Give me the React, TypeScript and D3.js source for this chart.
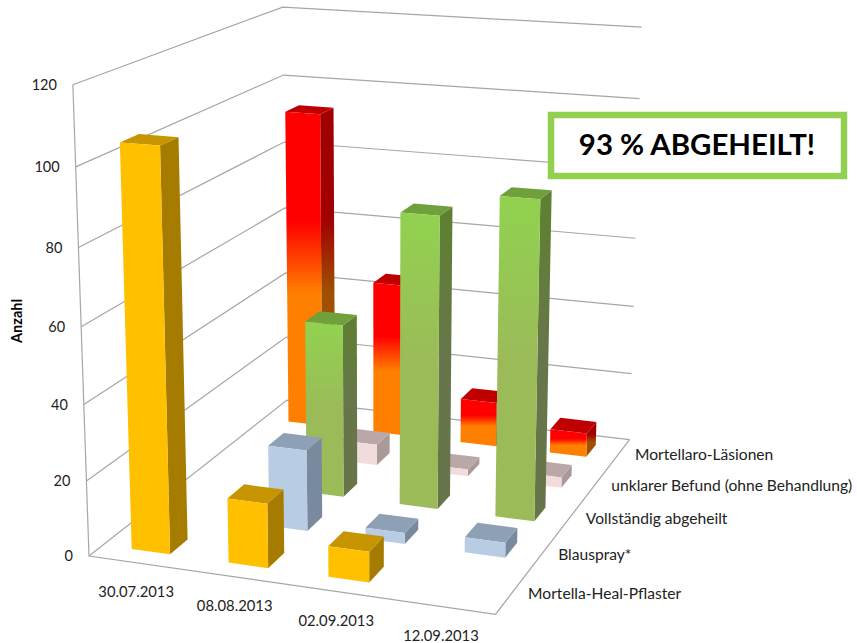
import React, { useEffect, useRef } from 'react'
import * as d3 from 'd3'

const categories = ['30.07.2013', '08.08.2013', '02.09.2013', '12.09.2013']
// front row first
const seriesNames = [
  'Mortella-Heal-Pflaster',
  'Blauspray*',
  'Vollständig abgeheilt',
  'unklarer Befund (ohne Behandlung)',
  'Mortellaro-Läsionen',
]
const pflaster = [105, 17, 8, 0]
const blauspray = [0, 22, 3, 4]
const abgeheilt = [0, 48, 80, 86.5]
const unklar = [0, 6, 2, 3]
const laesionen = [93, 45, 13, 7]
const yTicks = [0, 20, 40, 60, 80, 100, 120]

const seriesValues = [pflaster, blauspray, abgeheilt, unklar, laesionen]

// front, side, top colours per series. two colours = vertical gradient
const faceColors = [
  { front: ['#FFC000', '#FFC000'], side: ['#A67C00', '#A67C00'], top: '#C69500', stops: ['0%', '100%'] },
  { front: ['#B8CCE4', '#B8CCE4'], side: ['#7A8A9E', '#7A8A9E'], top: '#8EA0B5', stops: ['0%', '100%'] },
  { front: ['#92D050', '#9BBB59'], side: ['#5F8033', '#67764A'], top: '#6FA03C', stops: ['5%', '50%'] },
  { front: ['#F2DCDB', '#F2DCDB'], side: ['#A99A99', '#A99A99'], top: '#BAA8A8', stops: ['0%', '100%'] },
  { front: ['#FF0000', '#FF8000'], side: ['#A00000', '#A05000'], top: '#C00000', stops: ['35%', '58%'] },
]

// picture position of the corners of the plot box, (u, v, w) in 0..1
const anchors = [
  [0, 0, 0, 88, 556],
  [1, 0, 0, 496, 614],
  [1, 1, 0, 629, 440],
  [0, 1, 0, 288, 400],
  [0, 0, 1, 73.5, 85],
  [1, 1, 1, 642, 27],
  [0, 1, 1, 282, 7],
]

// least squares fit of a 3x4 camera matrix through the anchors
function fitCamera(pts: number[][]) {
  const rows: number[][] = []
  const rhs: number[] = []
  pts.forEach(([u, v, w, x, y]) => {
    rows.push([u, v, w, 1, 0, 0, 0, 0, -x * u, -x * v, -x * w])
    rhs.push(x)
    rows.push([0, 0, 0, 0, u, v, w, 1, -y * u, -y * v, -y * w])
    rhs.push(y)
  })
  const n = 11
  const m = d3.range(n).map(i =>
    d3.range(n + 1).map(j =>
      j < n ? d3.sum(rows, r => r[i] * r[j]) : d3.sum(rows, (r, k) => r[i] * rhs[k])
    )
  )
  for (let c = 0; c < n; c++) {
    let best = c
    for (let r = c + 1; r < n; r++) if (Math.abs(m[r][c]) > Math.abs(m[best][c])) best = r
    const tmp = m[c]; m[c] = m[best]; m[best] = tmp
    for (let r = 0; r < n; r++) {
      if (r === c) continue
      const f = m[r][c] / m[c][c]
      for (let j = c; j <= n; j++) m[r][j] -= f * m[c][j]
    }
  }
  return d3.range(n).map(i => m[i][n] / m[i][i])
}

const cam = fitCamera(anchors)
const project = (u: number, v: number, w: number): [number, number] => {
  const d = cam[8] * u + cam[9] * v + cam[10] * w + 1
  return [
    (cam[0] * u + cam[1] * v + cam[2] * w + cam[3]) / d,
    (cam[4] * u + cam[5] * v + cam[6] * w + cam[7]) / d,
  ]
}

export default function App() {
  const ref = useRef<SVGSVGElement>(null)

  useEffect(() => {
    const svg = d3.select(ref.current)
    svg.selectAll('*').remove()

    const uScale = d3.scaleBand<string>().domain(categories).range([0, 1]).padding(0.6).paddingOuter(0.3)
    const vScale = d3.scaleBand<string>().domain(seriesNames).range([0, 1]).padding(0.6).paddingOuter(0.3)
    const wScale = d3.scaleLinear().domain([0, 120]).range([0, 1])
    const line = d3.line()

    const font = 'Lato, sans-serif'
    const defs = svg.append('defs')
    faceColors.forEach((c, i) => {
      ;(['front', 'side'] as const).forEach(face => {
        const g = defs.append('linearGradient')
          .attr('id', `${face}-${i}`)
          .attr('x1', 0).attr('y1', 0).attr('x2', 0).attr('y2', 1)
        g.append('stop').attr('offset', c.stops[0]).attr('stop-color', c[face][0])
        g.append('stop').attr('offset', c.stops[1]).attr('stop-color', c[face][1])
      })
    })

    // walls
    const grid = svg.append('g').attr('fill', 'none').attr('stroke', '#A6A6A6').attr('stroke-width', 1.2)
    yTicks.forEach(t => {
      const w = wScale(t)
      grid.append('path').attr('d', line([project(0, 0, w), project(0, 1, w), project(1, 1, w)]))
    })
    grid.append('path').attr('d', line([project(0, 0, 1), project(0, 0, 0), project(1, 0, 0), project(1, 1, 0)]))

    // bars, back row first
    const bars = svg.append('g')
    d3.range(seriesNames.length - 1, -1, -1).forEach(s => {
      categories.forEach((cat, c) => {
        const value = seriesValues[s][c]
        if (!value) return
        const u0 = uScale(cat)!
        const u1 = u0 + uScale.bandwidth()
        const v0 = vScale(seriesNames[s])!
        const v1 = v0 + vScale.bandwidth()
        const h = wScale(value)
        const g = bars.append('g')
        const closed = (pts: [number, number][]) => line(pts) + 'Z'
        g.append('path')
          .attr('d', closed([project(u1, v0, 0), project(u1, v1, 0), project(u1, v1, h), project(u1, v0, h)]))
          .attr('fill', `url(#side-${s})`)
        g.append('path')
          .attr('d', closed([project(u0, v0, h), project(u1, v0, h), project(u1, v1, h), project(u0, v1, h)]))
          .attr('fill', faceColors[s].top)
        g.append('path')
          .attr('d', closed([project(u0, v0, 0), project(u1, v0, 0), project(u1, v0, h), project(u0, v0, h)]))
          .attr('fill', `url(#front-${s})`)
      })
    })

    // y axis
    yTicks.forEach(t => {
      const [x, y] = project(0, 0, wScale(t))
      svg.append('text').attr('x', x - 16).attr('y', y + 5)
        .attr('text-anchor', 'end').attr('font-family', font).attr('font-size', 14.5).attr('fill', '#222')
        .text(t)
    })
    svg.append('text')
      .attr('transform', 'translate(22,321) rotate(-90)')
      .attr('text-anchor', 'middle').attr('font-family', font).attr('font-size', 14.5)
      .attr('font-weight', 700).attr('fill', '#000')
      .text('Anzahl')

    // category labels along the front edge
    categories.forEach(cat => {
      const [x, y] = project(uScale(cat)! + uScale.bandwidth() / 2, 0, 0)
      svg.append('text').attr('x', x - 1).attr('y', y + 34)
        .attr('text-anchor', 'middle').attr('font-family', font).attr('font-size', 14.8).attr('fill', '#222')
        .text(cat)
    })

    // series labels along the right edge
    seriesNames.forEach(name => {
      const [x, y] = project(1, vScale(name)! + vScale.bandwidth() / 2, 0)
      svg.append('text').attr('x', x + 16.5).attr('y', y + 6)
        .attr('font-family', font).attr('font-size', 15.6).attr('fill', '#222')
        .text(name)
    })

    // callout
    const callout = svg.append('g')
    callout.append('rect').attr('x', 551).attr('y', 115).attr('width', 293).attr('height', 61)
      .attr('fill', '#fff').attr('stroke', '#92D050').attr('stroke-width', 6.5)
    callout.append('text').attr('x', 697).attr('y', 155)
      .attr('text-anchor', 'middle').attr('font-family', font).attr('font-size', 29.4).attr('font-weight', 700)
      .attr('fill', '#000')
      .text('93 % ABGEHEILT!')
  }, [])

  return <svg ref={ref} width={857} height={643} style={{ position: 'absolute', left: 0, top: 0 }} />
}
